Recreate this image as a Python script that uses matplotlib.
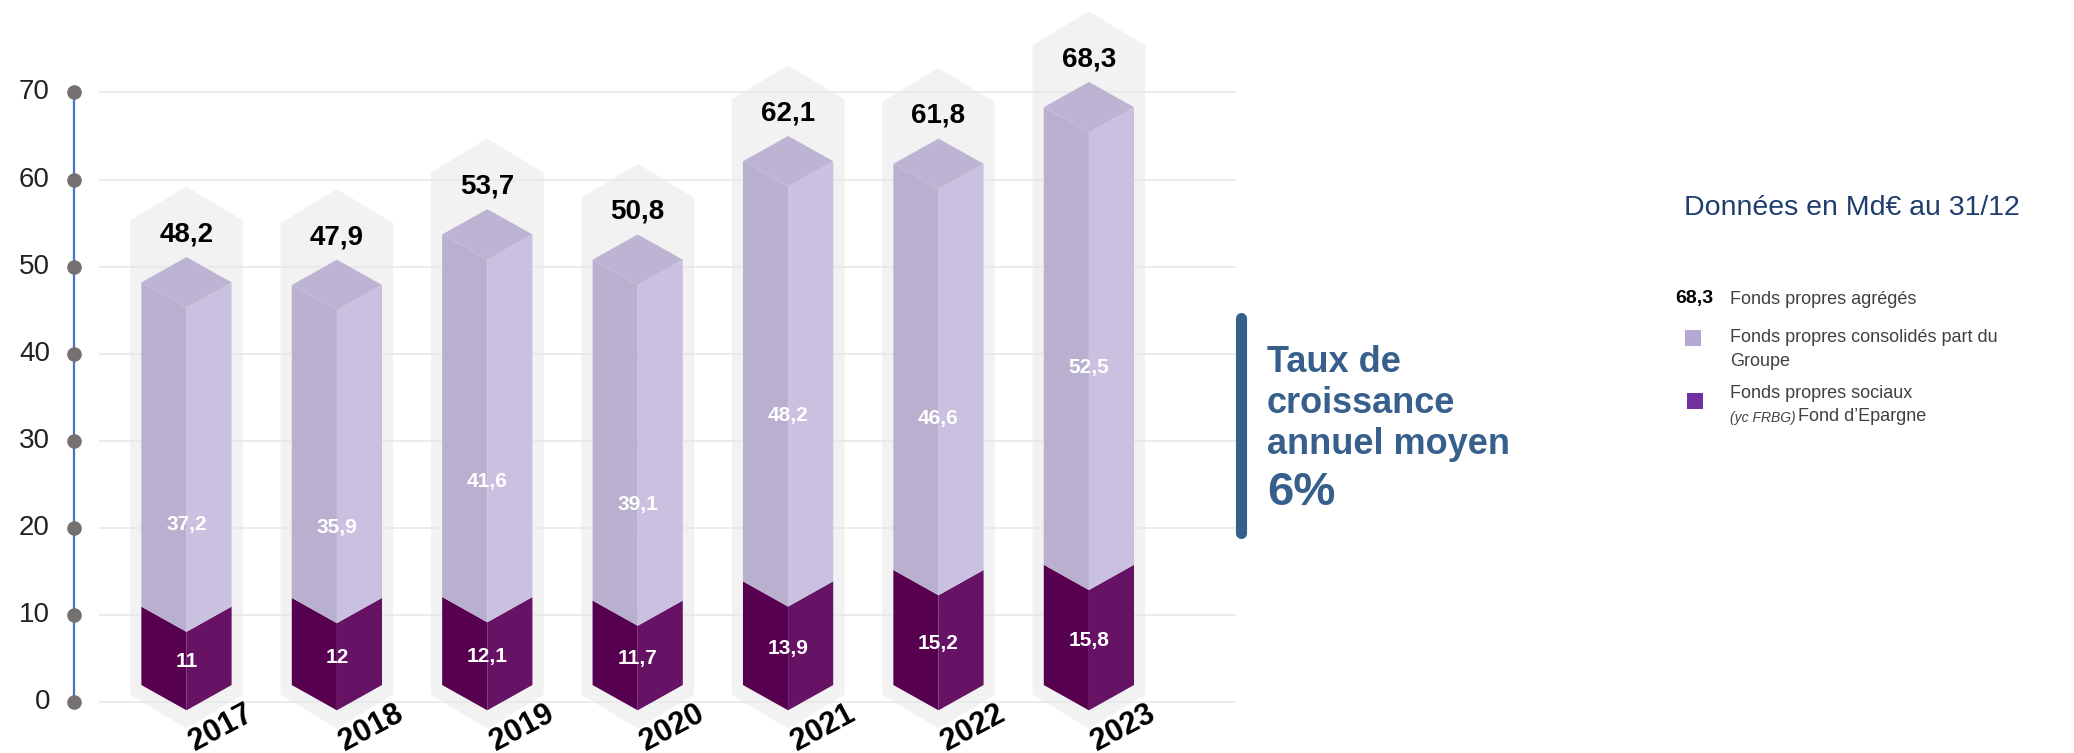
import matplotlib
matplotlib.use("Agg")
import matplotlib.pyplot as plt
from matplotlib.patches import Polygon, Rectangle
from matplotlib.lines import Line2D

plt.rcParams["font.family"] = ["Liberation Sans", "DejaVu Sans"]

# ----------------------------------------------------------------------------
# Data (Md€ au 31/12)
# ----------------------------------------------------------------------------
years = ["2017", "2018", "2019", "2020", "2021", "2022", "2023"]
total = [48.2, 47.9, 53.7, 50.8, 62.1, 61.8, 68.3]            # Fonds propres agrégés
consolides = [37.2, 35.9, 41.6, 39.1, 48.2, 46.6, 52.5]       # consolidés part du Groupe
sociaux = [11, 12, 12.1, 11.7, 13.9, 15.2, 15.8]              # sociaux (yc FRBG)
y_ticks = [0, 10, 20, 30, 40, 50, 60, 70]
cagr_label = "6%"

# colours
C_LIGHT_L, C_LIGHT_R, C_TOP = "#b9b0d0", "#c9c1df", "#bdb3d3"
C_DARK_L, C_DARK_R = "#56004f", "#661265"
C_FRAME = "#f2f2f2"
C_BLUE = "#365f8c"

W, H = 2074, 753


def fmt(v):
    return f"{v:g}".replace(".", ",")


def fx(px):
    return px / W


def fy(py):
    return 1 - py / H


fig = plt.figure(figsize=(W / 100, H / 100), dpi=100)
ax = fig.add_axes([0, 0, 1, 1])
ax.set_xlim(-1.24, 12.55)
ax.set_ylim(-5.8, 80.6)
ax.axis("off")

# grid + axis
ax.hlines(y_ticks, -0.58, 6.98, color="#e8e8e8", lw=1.2, zorder=2)
x_axis = -0.748
ax.plot([x_axis, x_axis], [y_ticks[0], y_ticks[-1]], color="#4472c4", lw=1.6, zorder=1)
ax.plot([x_axis] * len(y_ticks), y_ticks, "o", color="#767171", ms=9.5, zorder=2)
for t in y_ticks:
    ax.text(x_axis - 0.16, t, str(t), ha="right", va="center", fontsize=20, color="#222222")

# 3D-ish stacked bars
bw, d = 0.30, 2.9        # bar half width, isometric drop (value units)
hw, dh = 0.375, 3.9      # frame half width, frame drop
base = -0.9
for i, yr in enumerate(years):
    c = i
    v1 = sociaux[i]
    top = sociaux[i] + consolides[i]

    apex = total[i] + 11
    frame = [(c - hw, 0.9), (c - hw, apex - dh), (c, apex), (c + hw, apex - dh),
             (c + hw, 0.9), (c, 0.9 - dh)]
    ax.add_patch(Polygon(frame, closed=True, fc=C_FRAME, ec="none", zorder=1))

    # dark segment
    ax.add_patch(Polygon([(c - bw, base + d), (c, base), (c, v1 - d), (c - bw, v1)],
                         fc=C_DARK_L, ec="none", zorder=3))
    ax.add_patch(Polygon([(c, base), (c + bw, base + d), (c + bw, v1), (c, v1 - d)],
                         fc=C_DARK_R, ec="none", zorder=3))
    # light segment
    ax.add_patch(Polygon([(c - bw, v1), (c, v1 - d), (c, top - d), (c - bw, top)],
                         fc=C_LIGHT_L, ec="none", zorder=3))
    ax.add_patch(Polygon([(c, v1 - d), (c + bw, v1), (c + bw, top), (c, top - d)],
                         fc=C_LIGHT_R, ec="none", zorder=3))
    ax.add_patch(Polygon([(c - bw, top), (c, top + d), (c + bw, top), (c, top - d)],
                         fc=C_TOP, ec="none", zorder=3))

    ax.text(c, total[i] + 5.5, fmt(total[i]), ha="center", va="center",
            fontsize=20, fontweight="bold", color="black", zorder=4)
    ax.text(c, 0.9 * top - 23, fmt(consolides[i]), ha="center", va="center",
            fontsize=15, fontweight="bold", color="white", zorder=4)
    ax.text(c, v1 / 2 - 0.8, fmt(sociaux[i]), ha="center", va="center",
            fontsize=15, fontweight="bold", color="white", zorder=4)
    ax.text(c + 0.23, -2.9, yr, ha="center", va="center", rotation=28,
            fontsize=22, fontweight="bold", color="black", zorder=4)

# CAGR block
fig.add_artist(Line2D([fx(1241), fx(1241)], [fy(318), fy(533)], color=C_BLUE,
                      lw=8, solid_capstyle="round"))
for txt, py in [("Taux de", 372), ("croissance", 413), ("annuel moyen", 454)]:
    fig.text(fx(1267), fy(py), txt, ha="left", va="baseline", fontsize=26,
             fontweight="bold", color=C_BLUE)
fig.text(fx(1267), fy(505), cagr_label, ha="left", va="baseline", fontsize=34,
         fontweight="bold", color=C_BLUE)

# legend / notes
fig.text(fx(1684), fy(208), "Données en Md€ au 31/12", ha="left", va="center",
         fontsize=20.5, color="#1f3d6d")
fig.text(fx(1694), fy(299), fmt(total[-1]), ha="center", va="center",
         fontsize=14, fontweight="bold", color="black")
fig.text(fx(1730), fy(300), "Fonds propres agrégés", ha="left", va="center",
         fontsize=13, color="#404040")
fig.add_artist(Rectangle((fx(1685), fy(346)), 16 / W, 16 / H, transform=fig.transFigure,
                         fc="#b4a8d2", ec="none"))
fig.text(fx(1730), fy(337), "Fonds propres consolidés part du", ha="left", va="center",
         fontsize=13, color="#404040")
fig.text(fx(1730), fy(361), "Groupe", ha="left", va="center", fontsize=13, color="#404040")
fig.add_artist(Rectangle((fx(1687), fy(409)), 16 / W, 16 / H, transform=fig.transFigure,
                         fc="#7030a0", ec="none"))
fig.text(fx(1730), fy(393), "Fonds propres sociaux", ha="left", va="center",
         fontsize=13, color="#404040")
t1 = fig.text(fx(1730), fy(422), "(yc FRBG)", ha="left", va="baseline",
              fontsize=10, fontstyle="italic", color="#404040")
ax.annotate("Fond d’Epargne", xy=(1, 0), xycoords=t1, xytext=(2, 0),
            textcoords="offset points", ha="left", va="bottom", fontsize=13,
            color="#404040", annotation_clip=False)

fig.savefig("out.png", dpi=100)
